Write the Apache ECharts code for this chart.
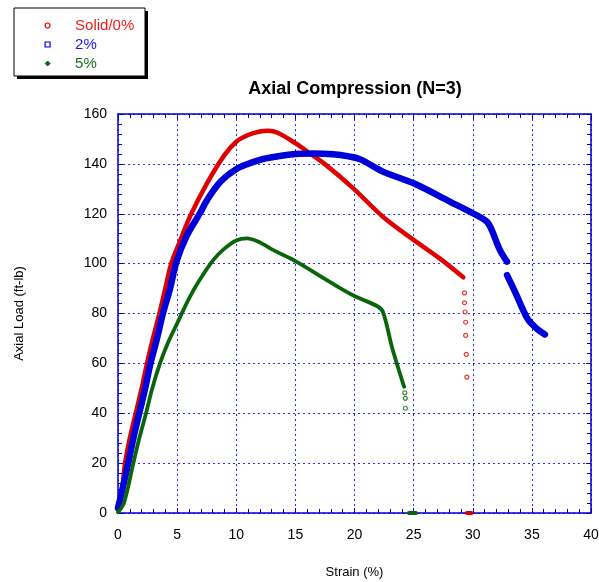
<!DOCTYPE html>
<html>
<head>
<meta charset="UTF-8">
<title>Axial Compression</title>
<script src="https://cdn.jsdelivr.net/npm/echarts@6/dist/echarts.min.js"></script>
<style>
  html, body { margin: 0; padding: 0; background: #fff; }
  #main { width: 599px; height: 582px; }
</style>
</head>
<body>
<div id="main"></div>
<script>
// values: [strain %, load ft-lb]
const solidCurve = [[0,2.5],[0.3,8],[0.6,20],[1.0,30],[1.5,40],[2.0,50],[2.45,60],[2.95,70],[3.5,80],[4.0,90],[4.5,100],
  [5.2,108.5],[6.1,119],[7.5,132],[9,143.5],[10,148.9],[11,151.6],[12,153],[12.7,153.3],[13.5,152.5],[15,148.3],
  [16.2,144.3],[17.6,139.5],[19.9,130.2],[22.4,118.8],[25,109.5],[27.2,102.1],[29.2,94.5]]
const solidDots = [[29.3,88.3],[29.3,84.3],[29.35,80.6],[29.4,76.5],[29.4,71.2],[29.45,63.6],[29.5,54.5]]
const solidFloor = [[29.5,0],[29.9,0]]

const twoCurveA = [[0,2],[0.3,8],[0.87,20],[1.3,30],[1.8,40],[2.3,50],[2.75,60],[3.3,70],[3.8,80],[4.4,90],[4.96,101],
  [5.8,111],[6.9,120],[7.6,126],[8.7,133],[10,137.9],[11,140],[12.5,142.2],[15,144],[16.5,144.2],[18.2,143.9],
  [19.5,143],[20.5,141.8],[22.4,136.9],[25,132.2],[28.1,124.8],[30,120.2],[31.2,116.8],[31.6,113.5],[32.3,105.4],[32.9,100.8]]
const twoCurveB = [[32.9,95.4],[33.7,87.4],[34.2,82],[34.7,77.4],[35.4,74],[36.1,71.6]]

const fiveCurve = [[0,0.3],[0.5,4],[1.3,20],[1.8,30],[2.37,40],[2.9,50],[3.55,60],[4.2,68],[5,76],[6.0,86],[6.9,93.4],
  [8.05,101.4],[9,106],[10,109.3],[10.9,110.1],[12,108.5],[13.1,105.5],[15,101],[17.9,92.7],[20,87],[21.9,83],
  [22.4,80.7],[23.2,66],[24.1,52],[24.2,50.6]]
const fiveDots = [[24.25,48.2],[24.3,46],[24.3,42]]
const fiveFloor = [[24.6,0],[25.2,0]]

const seriesNames = ['Solid/0%', '2%', '5%']
const xTicks = {min: 0, max: 40, interval: 5}
const yTicks = {min: 0, max: 160, interval: 20}

const red = '#e00000', blue = '#0000d8', green = '#0a640a'
const frame = '#0000c8'

function curve(name, data, color, width) {
  return {
    name: name, type: 'line', data: data, smooth: 0.35,
    showSymbol: false, symbol: 'none',
    lineStyle: {color: color, width: width, cap: 'round', join: 'round'},
    itemStyle: {color: color}, z: 3
  }
}
function dots(name, data, color, sym) {
  return {
    name: name, type: 'scatter', data: data, symbol: sym, symbolSize: 4,
    itemStyle: {color: '#fff', borderColor: color, borderWidth: 1.2}, z: 4
  }
}

const axisCommon = {
  type: 'value',
  axisLine: {show: true, onZero: false, lineStyle: {color: frame, width: 1.5}},
  axisTick: {show: true, inside: true, length: 5, lineStyle: {color: frame}},
  minorTick: {show: true, splitNumber: 5, length: 4, lineStyle: {color: frame}},
  axisLabel: {color: '#000', fontSize: 14, fontFamily: 'Liberation Sans, Arial'},
  splitLine: {show: false}
}

let chart = echarts.init(document.getElementById('main'))
chart.setOption({
  animation: false,
  backgroundColor: '#fff',
  title: {
    text: 'Axial Compression (N=3)', left: 355, top: 80, textAlign: 'center', padding: 0,
    textStyle: {fontSize: 18, fontWeight: 'bold', color: '#000', fontFamily: 'Liberation Sans, Arial'}
  },
  graphic: [
    {type: 'rect', shape: {x: 17, y: 11, width: 131, height: 68}, style: {fill: '#000'}, z: 0},
    {type: 'rect', shape: {x: 14, y: 8, width: 131, height: 68}, style: {fill: '#fff', stroke: '#000', lineWidth: 1}, z: 1}
  ],
  legend: {
    orient: 'vertical', left: 44.5, top: 18, padding: 0, itemGap: 4,
    itemWidth: 5, itemHeight: 5, z: 10,
    textStyle: {fontSize: 15, fontFamily: 'Liberation Sans, Arial', lineHeight: 15, padding: [0, 0, 0, 20]},
    data: [
      {name: seriesNames[0], icon: 'circle', itemStyle: {color: '#fff', borderColor: red, borderWidth: 1.2}, textStyle: {color: '#f01c1c'}},
      {name: seriesNames[1], icon: 'rect', itemStyle: {color: '#fff', borderColor: blue, borderWidth: 1.2}, textStyle: {color: '#1a1af0'}},
      {name: seriesNames[2], icon: 'diamond', itemStyle: {color: green, borderColor: green, borderWidth: 1}, textStyle: {color: '#1f6e1f'}}
    ]
  },
  grid: {left: 118, right: 8, top: 114, bottom: 69, containLabel: false, outerBoundsMode: 'none'},
  xAxis: [
    Object.assign({}, axisCommon, {
      position: 'bottom', min: xTicks.min, max: xTicks.max, interval: xTicks.interval,
      axisLabel: Object.assign({}, axisCommon.axisLabel, {margin: 15}),
      name: 'Strain (%)', nameLocation: 'middle', nameGap: 53,
      nameTextStyle: {fontSize: 13, color: '#000', fontFamily: 'Liberation Sans, Arial'},
      splitLine: {show: true, lineStyle: {color: '#2a2aff', width: 1, type: [2, 3]}}
    }),
    Object.assign({}, axisCommon, {
      position: 'top', min: xTicks.min, max: xTicks.max, interval: xTicks.interval,
      axisLabel: {show: false}
    })
  ],
  yAxis: [
    Object.assign({}, axisCommon, {
      position: 'left', min: yTicks.min, max: yTicks.max, interval: yTicks.interval,
      axisLabel: Object.assign({}, axisCommon.axisLabel, {margin: 11}),
      name: 'Axial Load (ft-lb)', nameLocation: 'middle', nameGap: 92,
      nameTextStyle: {fontSize: 13, color: '#000', fontFamily: 'Liberation Sans, Arial'},
      splitLine: {show: true, lineStyle: {color: '#2a2aff', width: 1, type: [2, 3]}}
    }),
    Object.assign({}, axisCommon, {
      position: 'right', min: yTicks.min, max: yTicks.max, interval: yTicks.interval,
      axisLabel: {show: false}
    })
  ],
  series: [
    curve(seriesNames[0], solidCurve, red, 4.5),
    dots(seriesNames[0], solidDots, red, 'circle'),
    curve(seriesNames[0], solidFloor, red, 4),
    curve(seriesNames[1], twoCurveA, blue, 6.5),
    curve(seriesNames[1], twoCurveB, blue, 6.5),
    curve(seriesNames[2], fiveCurve, green, 3.8),
    dots(seriesNames[2], fiveDots, green, 'circle'),
    curve(seriesNames[2], fiveFloor, green, 4)
  ]
})
</script>
</body>
</html>
